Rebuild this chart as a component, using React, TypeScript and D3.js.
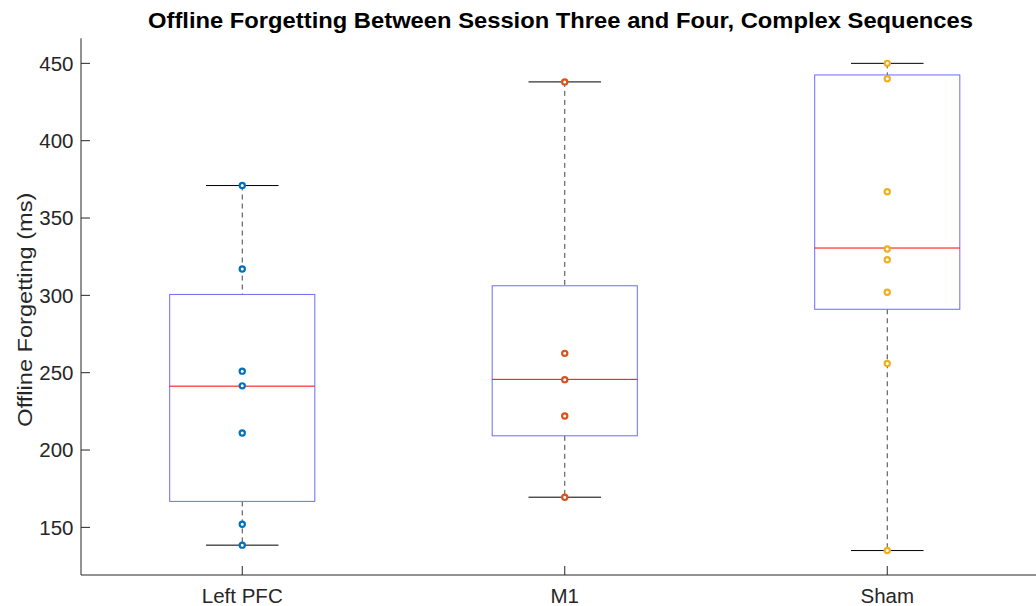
import * as React from 'react';
import * as d3 from 'd3';

const categories = ['Left PFC', 'M1', 'Sham'];
const pointColors = ['#0072BD', '#D95319', '#EDB120'];

// individual subjects
const leftPfcPoints = [371, 317, 251, 241.5, 211, 152, 138.5];
const m1Points = [438, 262.5, 245.5, 222, 169.5];
const shamPoints = [450, 440, 367, 330, 323, 302, 256, 135];

// box statistics
const whiskerHigh = [371, 438, 450];
const q3 = [300.6, 306.2, 442.5];
const median = [241.3, 245.7, 330.6];
const q1 = [166.8, 209.2, 291.0];
const whiskerLow = [138.5, 169.5, 135];

const yTicks = [150, 200, 250, 300, 350, 400, 450];

const W = 1036;
const H = 606;
const left = 81;
const bottom = 575;
const top = 38.3;

const font = "'Liberation Sans', Arial, Helvetica, sans-serif";
const axisColor = '#262626';

const App = () => {
  const x = d3.scaleLinear().domain([0.5, 3.5]).range([left, left + 3 * 322.5]);
  const y = d3.scaleLinear().domain([119.2, 466.2]).range([bottom, top]);
  const groups = [leftPfcPoints, m1Points, shamPoints];
  const boxHalf = 0.225;
  const capHalf = 0.1125;

  return (
    <svg
      width={W}
      height={H}
      style={{ position: 'absolute', left: 0, top: 0, background: '#fff' }}
      fontFamily={font}>
      <text
        x={148}
        y={28}
        textLength={825}
        lengthAdjust='spacingAndGlyphs'
        fontWeight='bold'
        fontSize='22.5'
        fill='#000'>
        Offline Forgetting Between Session Three and Four, Complex Sequences
      </text>

      {/* axes */}
      <line x1={left} x2={W} y1={bottom} y2={bottom} stroke={axisColor} strokeWidth={1} />
      <line x1={left} x2={left} y1={top} y2={bottom} stroke={axisColor} strokeWidth={1} />
      {yTicks.map((t) => (
        <g key={t}>
          <line x1={left} x2={left + 9} y1={y(t)} y2={y(t)} stroke={axisColor} />
          <text
            x={left - 7.5}
            y={y(t)}
            dy='0.36em'
            textAnchor='end'
            fontSize='20.5'
            fill={axisColor}>
            {t}
          </text>
        </g>
      ))}
      {categories.map((c, i) => (
        <g key={c}>
          <line x1={x(i + 1)} x2={x(i + 1)} y1={bottom} y2={bottom - 9} stroke={axisColor} />
          <text
            x={x(i + 1)}
            y={602.7}
            textAnchor='middle'
            fontSize='20.5'
            fill={axisColor}>
            {c}
          </text>
        </g>
      ))}
      <text
        transform={`translate(32 ${(top + bottom) / 2 + 3}) rotate(-90)`}
        textAnchor='middle'
        fontSize='21'
        textLength={234}
        lengthAdjust='spacingAndGlyphs'
        fill={axisColor}>
        Offline Forgetting (ms)
      </text>

      {/* boxes */}
      {categories.map((c, i) => {
        const cx = x(i + 1);
        return (
          <g key={'box' + c}>
            <line
              x1={cx}
              x2={cx}
              y1={y(whiskerHigh[i])}
              y2={y(q3[i])}
              stroke='#444'
              strokeDasharray='5,4'
            />
            <line
              x1={cx}
              x2={cx}
              y1={y(q1[i])}
              y2={y(whiskerLow[i])}
              stroke='#444'
              strokeDasharray='5,4'
            />
            <line
              x1={x(i + 1 - capHalf)}
              x2={x(i + 1 + capHalf)}
              y1={y(whiskerHigh[i])}
              y2={y(whiskerHigh[i])}
              stroke='#000'
            />
            <line
              x1={x(i + 1 - capHalf)}
              x2={x(i + 1 + capHalf)}
              y1={y(whiskerLow[i])}
              y2={y(whiskerLow[i])}
              stroke='#000'
            />
            <rect
              x={x(i + 1 - boxHalf)}
              y={y(q3[i])}
              width={x(i + 1 + boxHalf) - x(i + 1 - boxHalf)}
              height={y(q1[i]) - y(q3[i])}
              fill='none'
              stroke='#6b6bff'
              strokeWidth={1}
            />
            <line
              x1={x(i + 1 - boxHalf)}
              x2={x(i + 1 + boxHalf)}
              y1={y(median[i])}
              y2={y(median[i])}
              stroke='#ff0000'
              strokeWidth={1}
            />
          </g>
        );
      })}

      {/* points */}
      {groups.map((pts, i) =>
        pts.map((v, j) => (
          <circle
            key={i + '-' + j}
            cx={x(i + 1)}
            cy={y(v)}
            r={2.6}
            fill='#fff'
            stroke={pointColors[i]}
            strokeWidth={2.2}
          />
        ))
      )}
    </svg>
  );
};

export default App;
